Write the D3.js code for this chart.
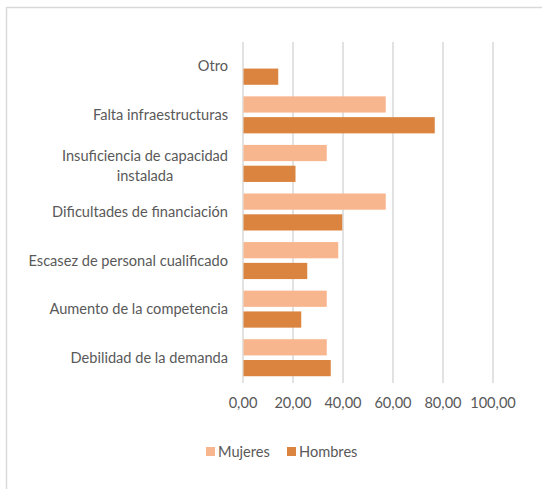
<!DOCTYPE html>
<html>
<head>
<meta charset="utf-8">
<script src="https://cdn.jsdelivr.net/npm/d3@7"></script>
<style>
  body { margin: 0; background: #fff; }
  svg text { font-family: Lato, "Open Sans", sans-serif; fill: #595959; }
</style>
</head>
<body>
<div id="chart"></div>
<script>
const categories = ['Otro', 'Falta infraestructuras', 'Insuficiencia de capacidad|instalada',
    'Dificultades de financiación', 'Escasez de personal cualificado',
    'Aumento de la competencia', 'Debilidad de la demanda'];
const series = ['Mujeres', 'Hombres'];
const mujeres = [null, 56.9, 33.3, 56.9, 37.9, 33.3, 33.3];
const hombres = [13.9, 76.5, 20.8, 39.5, 25.5, 23.1, 34.9];
const ticks = [0, 20, 40, 60, 80, 100];
const colors = ['#F8B68E', '#DA843F'];

const width = 542, height = 489;
const fontSize = 14.6;
const svg = d3.select('#chart').append('svg')
    .attr('width', width)
    .attr('height', height);

// frame
svg.append('rect')
    .attr('x', 6.5).attr('y', 7.5)
    .attr('width', width).attr('height', height)
    .attr('fill', 'none')
    .attr('stroke', '#d9d9d9')
    .attr('stroke-width', 1.5);

let x = d3.scaleLinear().domain([0, 100]).range([243, 493]);
let y = d3.scaleBand().domain(categories).range([42, 382]).paddingInner(0.238).paddingOuter(0.119);
let ySub = d3.scaleBand().domain(series).range([0, y.bandwidth()]).paddingInner(0.22);

// gridlines
svg.append('g')
    .selectAll('line')
    .data(ticks)
    .enter().append('line')
    .attr('x1', d => x(d)).attr('x2', d => x(d))
    .attr('y1', 42).attr('y2', 383)
    .attr('stroke', '#d9d9d9')
    .attr('stroke-width', 1.5);

let rows = categories.map((c, i) => ({cat: c, vals: [mujeres[i], hombres[i]]}));

let group = svg.append('g')
    .selectAll('g')
    .data(rows)
    .enter().append('g')
    .attr('transform', d => `translate(0,${y(d.cat)})`);

group.selectAll('rect')
    .data(d => d.vals.map((v, j) => ({s: series[j], v: v, j: j})).filter(e => e.v != null))
    .enter().append('rect')
    .attr('x', x(0) + 0.5)
    .attr('y', d => ySub(d.s))
    .attr('width', d => x(d.v) - x(0))
    .attr('height', ySub.bandwidth())
    .attr('fill', d => colors[d.j]);

// category labels
let labelRight = 228;
let labels = svg.append('g')
    .selectAll('text')
    .data(categories)
    .enter().append('text')
    .attr('text-anchor', 'end')
    .attr('font-size', fontSize)
    .attr('x', labelRight)
    .attr('y', d => y(d) + y.bandwidth() / 2);

labels.each(function (d) {
    let parts = d.split('|');
    let t = d3.select(this);
    if (parts.length === 1) {
        t.append('tspan').attr('dy', '0.35em').text(d);
    } else {
        // second line centred under the first one
        t.attr('text-anchor', 'middle');
        let first = t.append('tspan').attr('dy', '-0.15em').text(parts[0]);
        let w = first.node().getComputedTextLength();
        let cx = labelRight - w / 2;
        first.attr('x', cx);
        t.append('tspan').attr('x', cx).attr('dy', '1.37em').text(parts[1]);
    }
});

// x tick labels
svg.append('g')
    .selectAll('text')
    .data(ticks)
    .enter().append('text')
    .attr('x', d => x(d))
    .attr('y', 408)
    .attr('text-anchor', 'middle')
    .attr('font-size', fontSize)
    .text(d => d3.format('.2f')(d).replace('.', ','));

// legend
let legendX = [206, 287];
let legend = svg.append('g')
    .selectAll('g')
    .data(series)
    .enter().append('g')
    .attr('transform', (d, i) => `translate(${legendX[i]},447)`);

legend.append('rect')
    .attr('width', 9).attr('height', 9)
    .attr('fill', (d, i) => colors[i]);

legend.append('text')
    .attr('x', 12).attr('y', 4.5)
    .attr('dy', '0.35em')
    .attr('font-size', fontSize)
    .text(d => d);
</script>
</body>
</html>
